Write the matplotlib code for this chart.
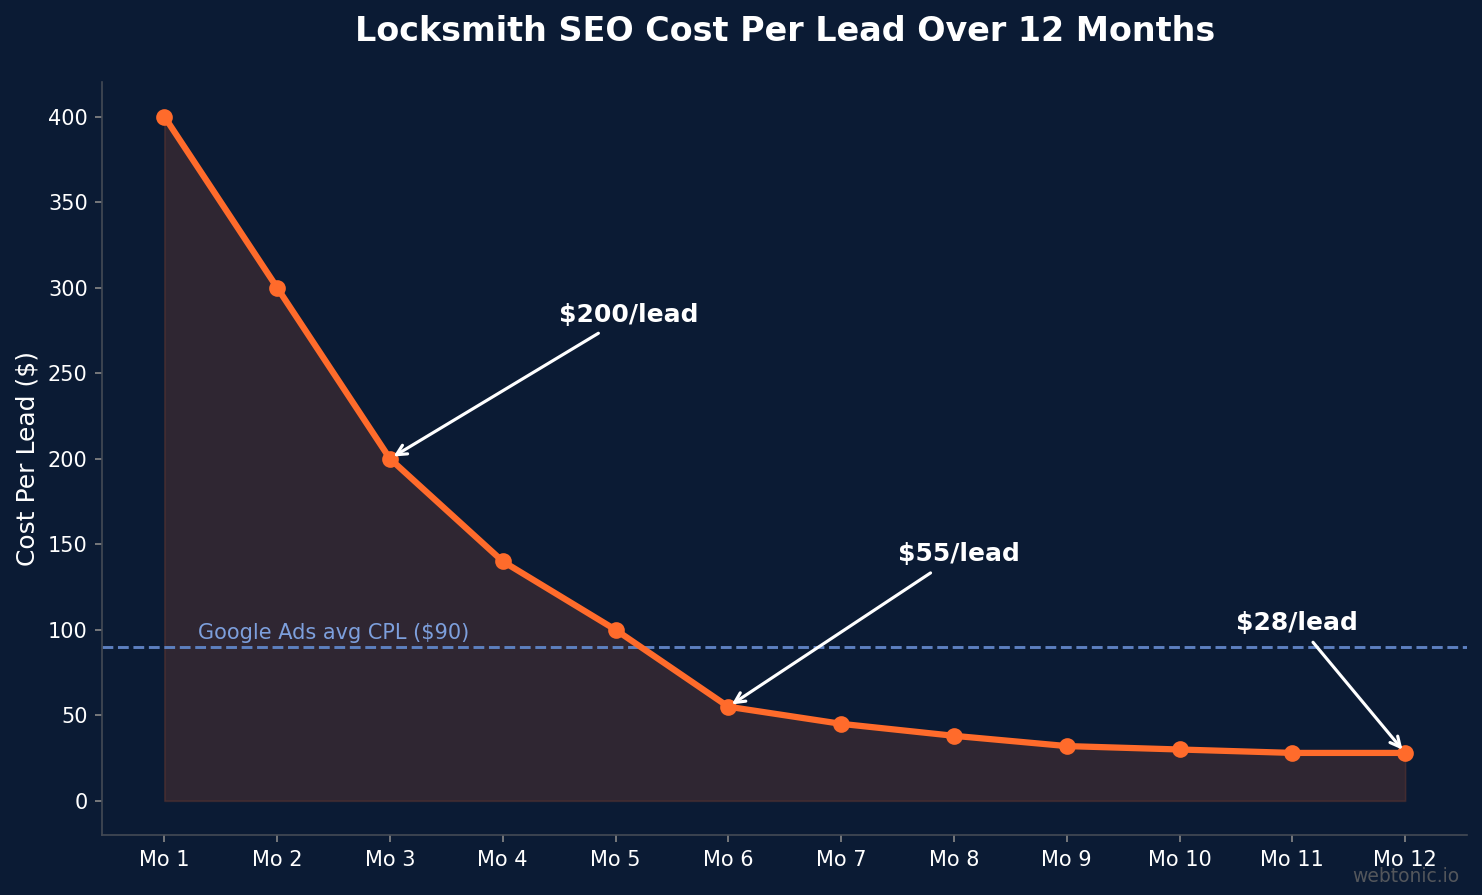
import numpy as np
import matplotlib.pyplot as plt

months = ['Mo 1', 'Mo 2', 'Mo 3', 'Mo 4', 'Mo 5', 'Mo 6',
          'Mo 7', 'Mo 8', 'Mo 9', 'Mo 10', 'Mo 11', 'Mo 12']
cpl = [400, 300, 200, 140, 100, 55, 45, 38, 32, 30, 28, 28]
google_ads_cpl = 90
callouts = [(2, '$200/lead', 3.5, 277), (5, '$55/lead', 6.5, 137), (11, '$28/lead', 9.5, 97)]

bg = '#0b1b34'
orange = '#ff6b2b'

fig, ax = plt.subplots(figsize=(9.88, 5.967), dpi=150)
fig.patch.set_facecolor(bg)
ax.set_facecolor(bg)

x = np.arange(len(months))
ax.fill_between(x, cpl, 0, color=orange, alpha=0.15, edgecolor=orange, linewidth=0.8)
ax.plot(x, cpl, color=orange, linewidth=3, marker='o', markersize=7, zorder=3)

# benchmark line
ax.axhline(google_ads_cpl, color='#5d80c0', linestyle='--', linewidth=1.4)
ax.text(0.3, google_ads_cpl + 2, 'Google Ads avg CPL ($90)', color='#7d9fdc',
        fontsize=10, va='bottom')

for i, label, tx, ty in callouts:
    ax.annotate(label, xy=(x[i], cpl[i]), xytext=(tx, ty),
                color='white', fontsize=12, fontweight='bold', ha='left', va='bottom',
                arrowprops=dict(arrowstyle='->', color='white', lw=1.5))

ax.set_ylim(-20, 420)
ax.set_xticks(x)
ax.set_xticklabels(months)
ax.set_ylabel('Cost Per Lead ($)', color='white', fontsize=12)
ax.set_title('Locksmith SEO Cost Per Lead Over 12 Months', color='white',
             fontsize=16, fontweight='bold', pad=20)

ax.tick_params(colors='white', labelsize=10)
ax.tick_params(axis='both', color='#888888')
for side in ['top', 'right']:
    ax.spines[side].set_visible(False)
for side in ['left', 'bottom']:
    ax.spines[side].set_color('#444a55')

fig.text(0.985, 0.01, 'webtonic.io', color='#666666', fontsize=9, ha='right', va='bottom', alpha=0.8)

fig.subplots_adjust(left=0.069, right=0.99, top=0.908, bottom=0.067)
plt.savefig('out.png', facecolor=bg)
